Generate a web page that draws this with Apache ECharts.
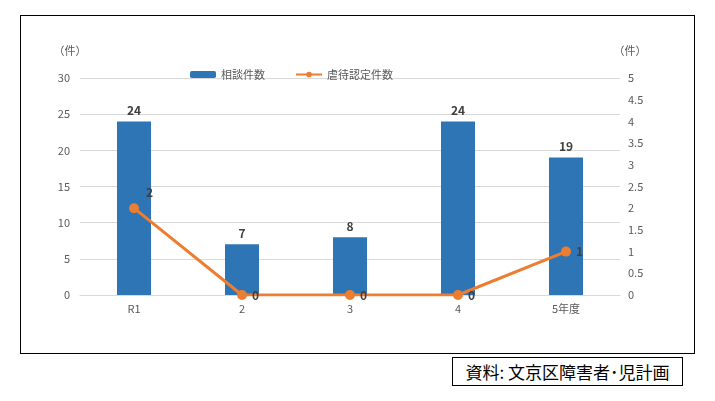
<!DOCTYPE html><html><head><meta charset="utf-8">
<script src="https://cdn.jsdelivr.net/npm/echarts@6/dist/echarts.min.js"></script>
<style>body{margin:0;background:#fff}#c{width:715px;height:401px;position:relative}
#b{position:absolute;left:20px;top:15px;width:673px;height:337px;border:1px solid #000}
#cap{position:absolute;left:452px;top:357px;width:229px;height:27px;border:1px solid #000;font:17px "Noto Sans CJK JP";line-height:27px;text-align:center;background:#fff}
#m{position:absolute;left:0;top:0;width:715px;height:401px}</style></head><body>
<div id="c"><div id="b"></div><div id="m"></div><div id="cap">資料: 文京区障害者･児計画</div></div>
<script>
const categories=['R1','2','3','4','5年度'];
const consult=[24,7,8,24,19];
const certified=[2,0,0,0,1];
const ch=echarts.init(document.getElementById('m'));
const f='"Noto Sans CJK JP"';
ch.setOption({animation:false,textStyle:{fontFamily:f},
legend:{top:64,left:185,itemGap:30,itemWidth:26,itemHeight:7,textStyle:{fontSize:11,color:'#595959'},data:['相談件数','虐待認定件数']},
grid:{left:80,right:95,top:78,bottom:106},
xAxis:{type:'category',data:categories,axisTick:{show:false},axisLine:{lineStyle:{color:'#d9d9d9'}},axisLabel:{color:'#595959',fontSize:11}},
yAxis:[{type:'value',min:0,max:30,interval:5,name:'（件）',nameGap:22,nameTextStyle:{color:'#595959',fontSize:11,padding:[0,20,0,0]},axisLabel:{color:'#595959',fontSize:11,margin:10},splitLine:{lineStyle:{color:'#d9d9d9'}}},
{type:'value',min:0,max:5,interval:0.5,name:'（件）',nameGap:22,nameTextStyle:{color:'#595959',fontSize:11,padding:[0,0,0,20]},axisLabel:{color:'#595959',fontSize:11,margin:8},splitLine:{show:false}}],
series:[{name:'相談件数',type:'bar',data:consult,barWidth:34,itemStyle:{color:'#2e75b6'},label:{show:true,position:'top',fontWeight:'bold',fontSize:12,color:'#404040'}},
{name:'虐待認定件数',type:'line',yAxisIndex:1,data:certified,symbol:'circle',symbolSize:10,lineStyle:{color:'#ed7d31',width:3},itemStyle:{color:'#ed7d31'},label:{show:true,position:'right',fontWeight:'bold',fontSize:12,color:'#404040',formatter:p=>p.value},
labelLayout:p=>p.dataIndex===0?{dx:2,dy:-16}:{dx:0,dy:0}}]});
</script></body></html>
